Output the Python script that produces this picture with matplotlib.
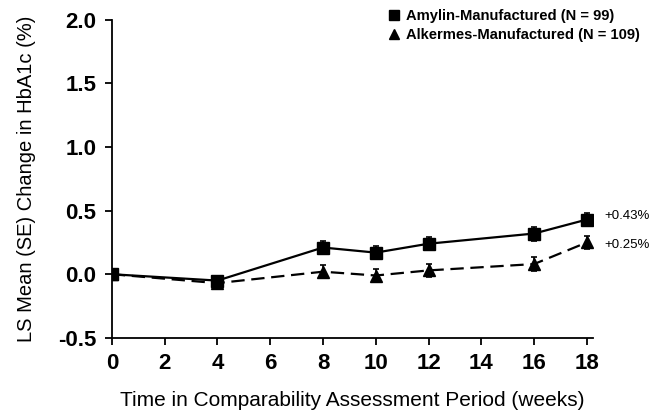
import matplotlib
matplotlib.use("Agg")
import matplotlib.pyplot as plt
from matplotlib.lines import Line2D

plt.rcParams['font.family'] = ['Liberation Sans', 'DejaVu Sans']
plt.rcParams['axes.unicode_minus'] = False

weeks = [0, 4, 8, 10, 12, 16, 18]
amylin = [0.0, -0.05, 0.21, 0.17, 0.24, 0.32, 0.43]
amylin_se = [0.0, 0.04, 0.05, 0.05, 0.05, 0.055, 0.05]
alkermes = [0.0, -0.07, 0.02, -0.01, 0.03, 0.08, 0.25]
alkermes_se = [0.0, 0.04, 0.05, 0.05, 0.05, 0.055, 0.05]
xticks = [0, 2, 4, 6, 8, 10, 12, 14, 16, 18]
yticks = [-0.5, 0.0, 0.5, 1.0, 1.5, 2.0]

fig = plt.figure(figsize=(6.54, 4.15), dpi=100)
ax = fig.add_axes([0.171, 0.186, 0.7364, 0.766])

ax.errorbar(weeks, alkermes, yerr=alkermes_se, color='black', linestyle=(0, (6, 3)),
            linewidth=1.6, marker='^', markersize=9, capsize=2.5, elinewidth=1.2,
            capthick=1.2, zorder=2)
ax.errorbar(weeks, amylin, yerr=amylin_se, color='black', linestyle='-',
            linewidth=1.6, marker='s', markersize=9, capsize=2.5, elinewidth=1.2,
            capthick=1.2, zorder=3)

ax.text(18.65, amylin[-1] + 0.03, '+0.43%', fontsize=9.5, va='center', ha='left')
ax.text(18.65, alkermes[-1] - 0.02, '+0.25%', fontsize=9.5, va='center', ha='left')

ax.set_xlim(0, 18.25)
ax.set_ylim(-0.5, 2.0)
ax.set_xticks(xticks)
ax.set_yticks(yticks)
ax.set_yticklabels([f"{v:.1f}" for v in yticks])
ax.spines['top'].set_visible(False)
ax.spines['right'].set_visible(False)
ax.spines['left'].set_linewidth(1.3)
ax.spines['bottom'].set_linewidth(1.3)
ax.tick_params(direction='out', length=5, width=1.3, pad=6)
for lab in ax.get_xticklabels() + ax.get_yticklabels():
    lab.set_fontsize(16)
    lab.set_fontweight('bold')

ax.set_xlabel('Time in Comparability Assessment Period (weeks)', fontsize=15, labelpad=12)
ax.set_ylabel('LS Mean (SE) Change in HbA1c (%)', fontsize=14.5, labelpad=16)

handles = [
    Line2D([], [], color='black', marker='s', linestyle='none', markersize=7),
    Line2D([], [], color='black', marker='^', linestyle='none', markersize=7),
]
labels = ['Amylin-Manufactured (N = 99)', 'Alkermes-Manufactured (N = 109)']
ax.legend(handles, labels, loc='upper left', bbox_to_anchor=(0.546, 1.075),
          frameon=False, prop={'weight': 'bold', 'size': 10.6}, handlelength=0.8,
          handletextpad=0.4, labelspacing=0.3)

fig.savefig('out.png', dpi=100)
